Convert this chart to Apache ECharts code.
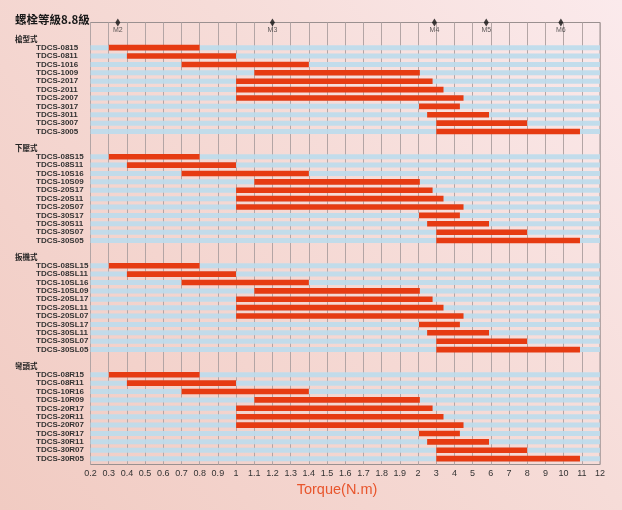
<!DOCTYPE html>
<html><head><meta charset="utf-8">
<script src="https://cdn.jsdelivr.net/npm/echarts@6/dist/echarts.min.js"></script>
<style>html,body{margin:0;padding:0;width:622px;height:510px;overflow:hidden}#c{width:622px;height:510px}</style>
</head><body><div id="c"></div>
<script>
const chartTitle = '螺栓等級8.8級';
const axisTitle = 'Torque(N.m)';
const tickLabels = ['0.2','0.3','0.4','0.5','0.6','0.7','0.8','0.9','1','1.1','1.2','1.3','1.4','1.5','1.6','1.7','1.8','1.9','2','3','4','5','6','7','8','9','10','11','12'];
const groupNames = ['槍型式','下壓式','扳機式','彎頭式'];
const modelsGun = ['TDCS-0815','TDCS-0811','TDCS-1016','TDCS-1009','TDCS-2017','TDCS-2011','TDCS-2007','TDCS-3017','TDCS-3011','TDCS-3007','TDCS-3005'];
const modelsPress = ['TDCS-08S15','TDCS-08S11','TDCS-10S16','TDCS-10S09','TDCS-20S17','TDCS-20S11','TDCS-20S07','TDCS-30S17','TDCS-30S11','TDCS-30S07','TDCS-30S05'];
const modelsLever = ['TDCS-08SL15','TDCS-08SL11','TDCS-10SL16','TDCS-10SL09','TDCS-20SL17','TDCS-20SL11','TDCS-20SL07','TDCS-30SL17','TDCS-30SL11','TDCS-30SL07','TDCS-30SL05'];
const modelsAngle = ['TDCS-08R15','TDCS-08R11','TDCS-10R16','TDCS-10R09','TDCS-20R17','TDCS-20R11','TDCS-20R07','TDCS-30R17','TDCS-30R11','TDCS-30R07','TDCS-30R05'];
const torqueMin = [0.3,0.4,0.7,1.1,1.0,1.0,1.0,2.05,2.5,3,3];
const torqueMax = [0.8,1.0,1.4,2.1,2.8,3.4,4.5,4.3,5.9,8,10.9];
const boltSizes = ['M2','M3','M4','M5','M6'];
const boltTorque = [0.35,1.2,2.9,5.75,9.85];

// piecewise torque scale -> axis position (0.1 steps to 2, then 1 steps)
function toPos(t){
  if (t <= 1) return (t - 0.2) / 0.1;
  if (t <= 2) return 8 + (t - 1) / 0.1;
  return 18 + (t - 2);
}

const groups = [modelsGun, modelsPress, modelsLever, modelsAngle];
const rowLabels = [];
const rowKinds = [];
const bandRows = [];
const barData = [];
groups.forEach((models, g) => {
  rowLabels.push(groupNames[g]); rowKinds.push('h');
  models.forEach((m, r) => {
    const idx = rowLabels.length;
    rowLabels.push(m); rowKinds.push('r');
    bandRows.push([0, idx]);
    barData.push([toPos(torqueMin[r]), toPos(torqueMax[r]), idx]);
  });
  if (g < groups.length - 1) { rowLabels.push(''); rowKinds.push('b'); }
});

const YMIN = -2, YMAX = 50.7, XMAX = tickLabels.length - 1;
const chart = echarts.init(document.getElementById('c'));
chart.setOption({
  backgroundColor: {type:'linear', x:0, y:1, x2:1, y2:0, colorStops:[{offset:0,color:'#f1cbc2'},{offset:0.6,color:'#f6dcd8'},{offset:1,color:'#fbeaec'}]},
  title: {text: chartTitle, left: 15, top: 14, padding: 0, textStyle:{fontSize:11.5, fontWeight:'bold', color:'#1a1a1a', fontFamily:'Noto Sans CJK TC'}},
  grid: {left: 90.5, right: 22, top: 22.5, bottom: 45.5, show: true, borderColor:'#9a9090', borderWidth:1, backgroundColor:'transparent'},
  xAxis: {type:'value', min:0, max:XMAX, interval:1,
    axisLine:{show:false}, axisTick:{show:false},
    splitLine:{show:true, lineStyle:{color:'#b3a5a5', width:1}},
    axisLabel:{fontSize:9, color:'#333', margin:5, fontFamily:'Liberation Sans', formatter: v => tickLabels[v] || ''}},
  yAxis: {type:'value', inverse:true, min:YMIN, max:YMAX, interval:1,
    axisLine:{show:false}, axisTick:{show:false}, splitLine:{show:false},
    axisLabel:{align:'left', margin:75.5, formatter: v => {
      if (!Number.isInteger(v) || v < 0 || v >= rowLabels.length) return '';
      const k = rowKinds[v];
      if (k === 'h') return '{h|' + rowLabels[v] + '}';
      if (k === 'r') return '{r|' + rowLabels[v] + '}';
      return '';
    }, rich:{
      h:{fontSize:7.5, fontWeight:'bold', color:'#222', fontFamily:'Noto Sans CJK TC'},
      r:{fontSize:8, fontWeight:'bold', color:'#333', fontFamily:'Liberation Sans', padding:[0,0,0,21]}
    }}},
  graphic: [{type:'text', x: 337, y: 490, style:{text: axisTitle, fill:'#e8552c', fontSize:14.5, fontFamily:'Liberation Sans', textAlign:'center', textVerticalAlign:'middle'}}],
  series: [
    {type:'custom', name:'bands', silent:true, data: bandRows,
      renderItem: (params, api) => {
        const a = api.coord([0, api.value(1)]);
        const b = api.coord([XMAX, api.value(1)]);
        return {type:'rect', shape:{x:a[0], y:a[1]-2.5, width:b[0]-a[0], height:5}, style:{fill:'#bddcec', opacity:0.93}};
      }},
    {type:'custom', name:'ranges', data: barData,
      renderItem: (params, api) => {
        const a = api.coord([api.value(0), api.value(2)]);
        const b = api.coord([api.value(1), api.value(2)]);
        return {type:'rect', shape:{x:a[0], y:a[1]-2.8, width:b[0]-a[0], height:5.6}, style:{fill:'#e63b12'}};
      }},
    {type:'scatter', name:'bolts', clip:false, symbol:'diamond', symbolSize:[5,8], itemStyle:{color:'#111'},
      data: boltTorque.map((t, i) => ({name: boltSizes[i], value:[toPos(t), YMIN]})),
      label:{show:true, position:'bottom', distance:0, formatter: p => p.name, fontSize:7, color:'#333', fontFamily:'Liberation Sans'}}
  ]
});
</script></body></html>
